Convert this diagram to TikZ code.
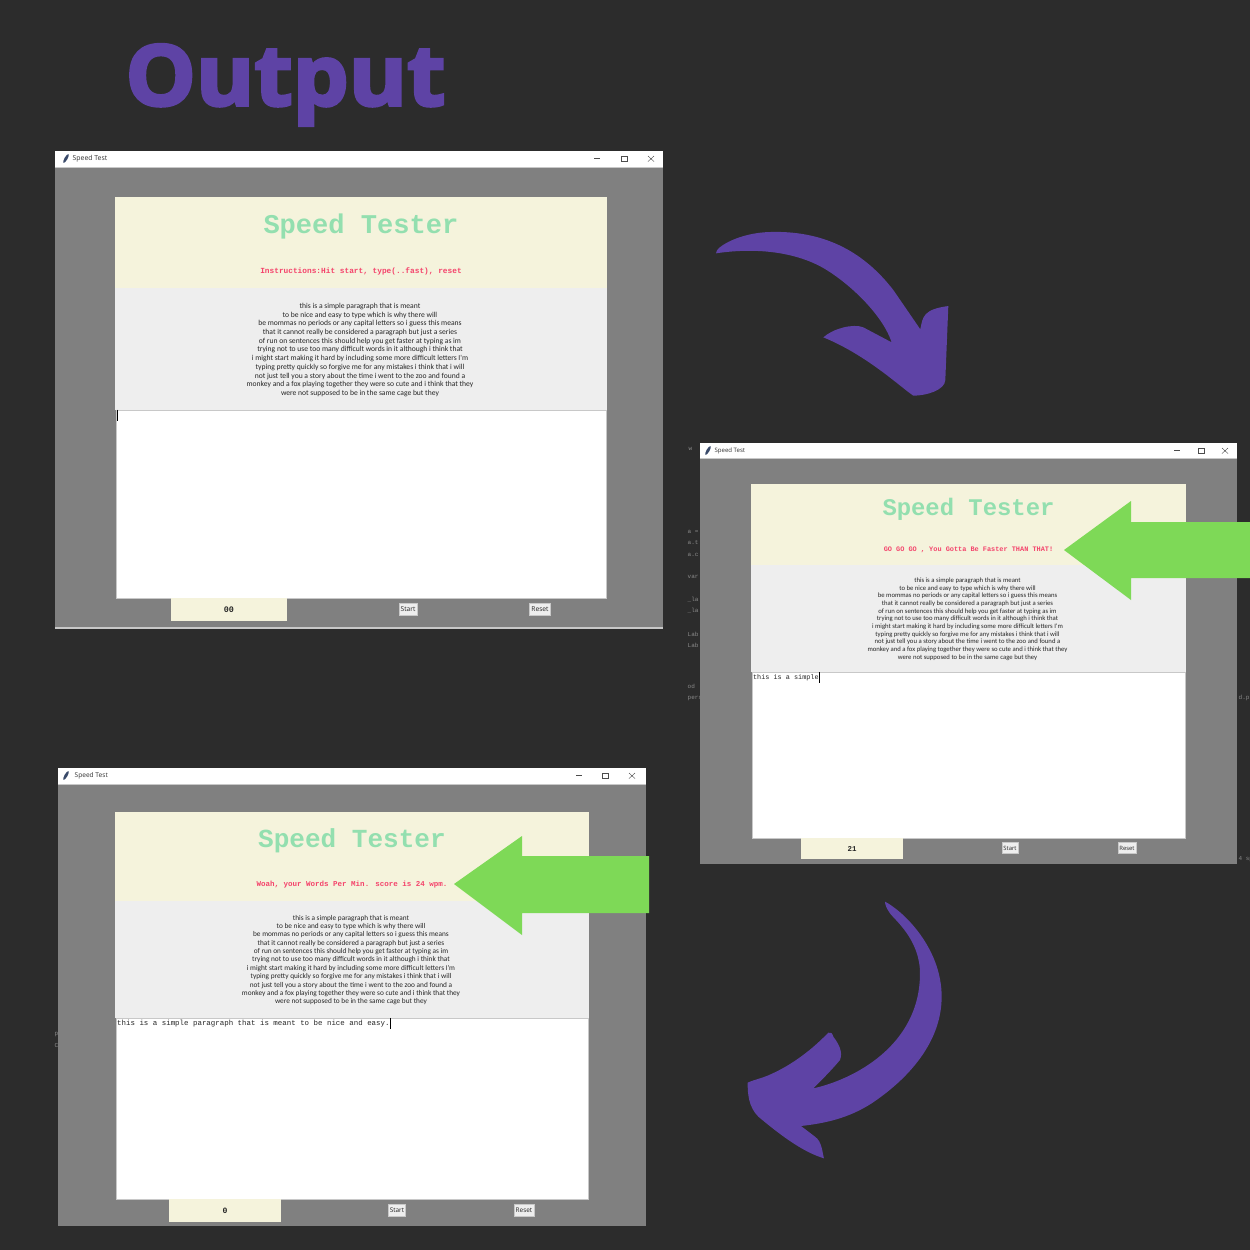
\documentclass[tikz,border=0pt]{standalone}
\usepackage{fontspec}
\setmainfont{Open Sans}
\newfontfamily\monofam{Liberation Mono}
\newfontfamily\bodyfam{Carlito}
\newfontfamily\headfam[BoldFeatures={FakeBold=3.5,FakeStretch=1.05}]{Open Sans}
\definecolor{bgdark}{HTML}{2C2C2C}
\definecolor{purpl}{HTML}{5E43A5}
\definecolor{limeg}{HTML}{7ED957}
\definecolor{wingray}{HTML}{808080}
\definecolor{cream}{HTML}{F5F3DC}
\definecolor{paper}{HTML}{EEEEEE}
\definecolor{mint}{HTML}{93DFAF}
\definecolor{rosered}{HTML}{F4436B}
\definecolor{edgeg}{HTML}{C8C8C8}
\definecolor{debris}{HTML}{8A8A8A}
\definecolor{quill}{HTML}{3A4A6A}
\newcommand{\parag}{this is a simple paragraph that is meant\\
  to be nice and easy to type which is why there will\\
  be mommas no periods or any capital letters so i guess this means\\
  that it cannot really be considered a paragraph but just a series\\
  of run on sentences this should help you get faster at typing as im\\
  trying not to use too many difficult words in it although i think that\\
  i might start making it hard by including some more difficult letters I'm\\
  typing pretty quickly so forgive me for any mistakes i think that i will\\
  not just tell you a story about the time i went to the zoo and found a\\
  monkey and a fox playing together they were so cute and i think that they\\
  were not supposed to be in the same cage but they}
\tikzset{
  apptitle/.style={font=\monofam\bfseries\fontsize{7.7pt}{9pt}\selectfont, text=mint, inner sep=0pt, scale=\fs, transform shape},
  appstatus/.style={font=\monofam\bfseries\fontsize{2.22pt}{3pt}\selectfont, text=rosered, inner sep=0pt, scale=\fs, transform shape},
  appbody/.style={font=\bodyfam\fontsize{2.16pt}{2.475pt}\selectfont, text=black!85, align=center, inner sep=0pt, scale=\fs, transform shape},
  apptyped/.style={font=\monofam\fontsize{2.2pt}{3pt}\selectfont, text=black!85, inner sep=0pt, minimum width=0pt, anchor=west, scale=\fs, transform shape},
  appcount/.style={font=\monofam\bfseries\fontsize{2.4pt}{3pt}\selectfont, text=black!85, inner sep=0pt, scale=\fs, transform shape},
  appbtn/.style={draw=edgeg, fill=paper, font=\fontsize{1.9pt}{2.2pt}\selectfont, text=black!85, inner sep=0pt, minimum height=3.5pt, line width=0.1pt, scale=\fs, transform shape},
  wincap/.style={font=\fontsize{1.95pt}{2.2pt}\selectfont, text=black!80, inner sep=0pt, anchor=west, scale=\fs, transform shape},
  debrisline/.style={font=\monofam\fontsize{1.7pt}{2pt}\selectfont, text=debris, inner sep=0pt, anchor=west},
  wintool/.style={draw=black!70, line width=0.12pt}
}
\begin{document}
\begin{tikzpicture}[x=0.01cm,y=-0.01cm]
  % Background and bounding box
  \fill[bgdark] (0,0) rectangle (1250,1250);
  \useasboundingbox (0,0) rectangle (1250,1250);

  % Heading
  \node[font=\headfam\bfseries\fontsize{24pt}{28pt}\selectfont, text=purpl, inner sep=0pt] (heading) at (285.5,85) {Output};

  % Leftover editor text behind the windows
  \foreach \dx/\dy/\dt in {688/449/w, 687/532/{a =}, 687/543/a.t, 687/555/a.c, 687/577/var, 687/600/\_la, 687/611/\_la, 687/634/Lab, 687/645/Lab, 687/686/od, 687/698/pers, 1238/698/d.p, 1238/859/4 sp, 54/1034/p, 54/1046/C}{
    \node[debrisline] (edit\dy) at (\dx,\dy) {\dt};
  }

  % The three windows
  % left/right/top/bottom/bar, quill x, caption x, minimise/maximise/close x, panel left/right/top/mid/box/boxbottom, counter left/right/bottom, start, reset, button y, title y, status y, body y, scale, status, typed, count
  \foreach \wl/\wr/\wt/\wb/\wbar/\qx/\capx/\minx/\maxx/\clsx/\pnl/\pnr/\pnt/\pnm/\bxt/\bxb/\cntl/\cntr/\cntb/\sx/\rx/\by/\ty/\sy/\py/\fs/\msg/\typed/\cnt in {
    55/663/151/628/167/66/72/597/624/651/115/607/197/288/410/598/171/287/621/408/540/609/226.5/271/350/1/{Instructions:Hit start, type(..fast), reset}/{}/00,
    700/1237/443/864/458/708/714/1177/1201/1225/751/1186/484/565/672/838/801/903/859/1010/1127/848/509.5/550/619/0.882/{GO GO GO , You Gotta Be Faster THAN THAT!}/{this is a simple}/21,
    58/646/768/1226/784/66/74/579/605/632/115/589/812/901/1018/1199/169/281/1222/397/524/1210/840.5/885/960/0.962/{Woah, your Words Per Min. score is 24 wpm.}/{this is a simple paragraph that is meant to be nice and easy.}/0}{
    % Frame and title bar
    \fill[wingray] (\wl,\wt) rectangle (\wr,\wb);
    \fill[white] (\wl,\wt) rectangle (\wr,\wbar);
    \draw[edgeg, line width=0.2pt] (\wl,\wbar) -- (\wr,\wbar);
    \fill[quill, rotate around={60:(\qx,\wt+7.5)}] (\qx,\wt+7.5) ellipse (5 and 1.5);
    \node[wincap] (cap\wt) at (\capx,\wt+8) {Speed Test};
    \draw[wintool] (\minx-3,\wt+7.5) -- (\minx+3,\wt+7.5);
    \draw[wintool] (\maxx-3,\wt+5) rectangle (\maxx+3,\wt+10.5);
    \draw[wintool] (\clsx-3,\wt+5) -- (\clsx+3,\wt+10.5) (\clsx-3,\wt+10.5) -- (\clsx+3,\wt+5);
    % Panels
    \fill[cream] (\pnl,\pnt) rectangle (\pnr,\pnm);
    \fill[paper] (\pnl,\pnm) rectangle (\pnr,\bxt);
    \draw[edgeg, fill=white, line width=0.2pt] (\pnl+1,\bxt) rectangle (\pnr-1,\bxb);
    \fill[cream] (\cntl,\bxb) rectangle (\cntr,\cntb);
    % Texts
    \node[apptitle] (title\wt) at ({(\pnl+\pnr)/2},\ty) {Speed Tester};
    \node[appstatus] (status\wt) at ({(\pnl+\pnr)/2},\sy) {\msg};
    \node[appbody] (para\wt) at ({(\pnl+\pnr)/2-1},\py) {\parag};
    \node[apptyped] (typed\wt) at (\pnl+1.5,\bxt+5.5) {\strut\typed};
    \draw[black, line width=0.3pt] (typed\wt.north east) -- (typed\wt.south east);
    \node[appcount] (count\wt) at ({(\cntl+\cntr)/2},{(\bxb+\cntb)/2}) {\cnt};
    \node[appbtn, minimum width=5pt] (start\wt) at (\sx,\by) {Start};
    \node[appbtn, minimum width=6pt] (reset\wt) at (\rx,\by) {Reset};
  }
  \draw[edgeg, line width=0.3pt] (55,628) -- (663,628);

  % Green arrows
  \fill[limeg] (1064,550) -- (1131,501) -- (1131,522) -- (1250,522) -- (1250,578) -- (1131,578) -- (1131,600) -- cycle;
  \fill[limeg] (454,884) -- (522,836) -- (522,856) -- (649,856) -- (649,913) -- (522,913) -- (522,935) -- cycle;

  % Purple arrow, top
  \begin{scope}[shift={(700,220)},scale=1/3]
    \fill[purpl] (48,100) .. controls (46,80) and (120,38) .. (210,36)
      .. controls (400,30) and (510,120) .. (580,210)
      -- (661,328) .. controls (668,290) and (670,268) .. (745,258)
      -- (736,480) .. controls (735,510) and (680,527) .. (640,527)
      .. controls (600,500) and (500,405) .. (370,352)
      .. controls (400,325) and (460,310) .. (490,322)
      -- (575,367) .. controls (550,290) and (460,200) .. (380,150)
      .. controls (300,100) and (180,80) .. (48,100) -- cycle;
  \end{scope}

  % Purple arrow, bottom
  \begin{scope}[shift={(735,890)},scale=1/3]
    \fill[purpl] (450,35) .. controls (500,60) and (620,170) .. (620,320)
      .. controls (620,470) and (500,580) .. (410,640)
      .. controls (340,685) and (270,700) .. (198,708)
      -- (240,740) .. controls (262,755) and (262,790) .. (267,805)
      .. controls (200,785) and (130,730) .. (70,680)
      .. controls (40,650) and (38,610) .. (38,578)
      .. controls (60,568) and (80,565) .. (100,556)
      .. controls (160,530) and (220,490) .. (280,428)
      .. controls (288,425) and (292,430) .. (295,440)
      .. controls (310,460) and (325,485) .. (315,510)
      .. controls (290,540) and (260,570) .. (235,595)
      .. controls (350,570) and (555,470) .. (555,250)
      .. controls (555,150) and (480,90) .. (465,70)
      .. controls (455,55) and (450,45) .. (450,35) -- cycle;
  \end{scope}
\end{tikzpicture}
\end{document}
